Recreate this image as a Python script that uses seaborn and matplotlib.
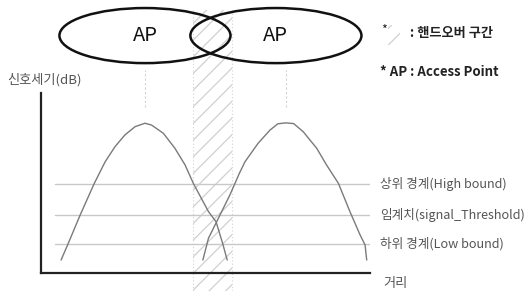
import numpy as np
import pandas as pd
import matplotlib
matplotlib.use("Agg")
import matplotlib.pyplot as plt
from matplotlib.patches import Ellipse, Rectangle
import seaborn as sns

# signal strength curves (distance 0-100, signal 0-100)
left_distance = [6.1, 8.3, 11.9, 16.2, 19.5, 22.5, 25.5, 28.6, 31.6, 33.6,
                 37.2, 40.7, 43.8, 46.3, 50.9, 53.2, 55.2, 56.6]
left_signal = [7.2, 16.5, 32.2, 49.8, 61.8, 70.2, 76.7, 81.3, 83.2, 82.2,
               77.6, 69.3, 60.0, 49.8, 34.1, 28.5, 16.5, 7.2]
right_distance = [49.2, 50.9, 53.4, 57.4, 60.3, 62.0, 66.0, 69.6, 72.0, 74.4,
                  76.8, 79.7, 83.8, 86.8, 90.4, 93.9, 97.0, 98.5, 99.0]
right_signal = [7.2, 19.3, 28.5, 43.3, 55.4, 61.8, 72.1, 79.4, 82.9, 83.4,
                83.0, 78.5, 69.3, 60.0, 49.8, 34.1, 21.1, 15.6, 7.2]

bound_levels = [49.4, 32.2, 16.1]
bound_labels = ["상위 경계(High bound)", "임계치(signal_Threshold)", "하위 경계(Low bound)"]

ap_centers = [31.6, 71.4]
ap_labels = ["AP", "AP"]
peak_x = [31.6, 74.4]
handover = [46.2, 58.1]

df = pd.concat([
    pd.DataFrame({"ap": "left", "distance": left_distance, "signal": left_signal}),
    pd.DataFrame({"ap": "right", "distance": right_distance, "signal": right_signal}),
])

sns.set_theme(style="white")
plt.rcParams["font.family"] = ["Noto Sans CJK KR", "DejaVu Sans"]
plt.rcParams["hatch.color"] = "#d0d0d0"
plt.rcParams["hatch.linewidth"] = 0.9

fig = plt.figure(figsize=(5.29, 2.91), dpi=100)
ax = fig.add_axes([41 / 529, 18 / 291, 329 / 529, 180 / 291])

# handover zone
ax.add_patch(Rectangle((handover[0], -10), handover[1] - handover[0], 156,
                       facecolor="none", edgecolor="#d0d0d0", hatch="//",
                       lw=0, clip_on=False, zorder=0))
for hx in handover:
    ax.plot([hx, hx], [-10, 146], ls=(0, (1, 2)), color="#d4d4d4", lw=0.8, clip_on=False, zorder=0)

# bounds
for lvl in bound_levels:
    ax.plot([4.3, 100], [lvl, lvl], color="#c8c8c8", lw=1.0, zorder=1)

sns.lineplot(data=df, x="distance", y="signal", units="ap", estimator=None,
             sort=False, color="#7a7a7a", lw=1.0, ax=ax, zorder=2)

for px in peak_x:
    ax.plot([px, px], [92, 113], ls=(0, (2, 2)), color="#d2d2d2", lw=0.8, clip_on=False)

ax.set_xlim(0, 100)
ax.set_ylim(0, 100)
ax.set_xticks([])
ax.set_yticks([])
ax.set_xlabel("")
ax.set_ylabel("")
for side in ["top", "right"]:
    ax.spines[side].set_visible(False)
for side in ["left", "bottom"]:
    ax.spines[side].set_color("#222222")
    ax.spines[side].set_linewidth(1.6)

# access point coverage ellipses
for cx, lab in zip(ap_centers, ap_labels):
    ax.add_patch(Ellipse((cx, 131.9), 52.0, 30.6, facecolor="none",
                         edgecolor="#111111", lw=1.8, clip_on=False))
    ax.text(cx, 131.9, lab, ha="center", va="center", fontsize=14.5, color="#111111")

# labels
for lvl, lab in zip(bound_levels, bound_labels):
    ax.text(103.0, lvl, lab, ha="left", va="center", fontsize=9.1, color="#555555")
ax.text(104.0, -5.6, "거리", ha="left", va="center", fontsize=9.5, color="#555555")
ax.text(-10.3, 107.2, "신호세기(dB)", ha="left", va="center", fontsize=9.5, color="#555555")

# legend notes
ax.text(103.4, 134.5, "*", ha="left", va="center", fontsize=9, color="#222222")
ax.add_patch(Rectangle((105.6, 126.7), 3.4, 11, facecolor="none", edgecolor="#d0d0d0",
                       hatch="//", lw=0, clip_on=False))
ax.text(112.2, 133.3, ": 핸드오버 구간", ha="left", va="center", fontsize=9.5,
        fontweight="bold", color="#222222")
ax.text(103.0, 111.7, "* AP : Access Point", ha="left", va="center", fontsize=9.5,
        fontweight="bold", color="#222222")

fig.savefig("out.png", dpi=100)
